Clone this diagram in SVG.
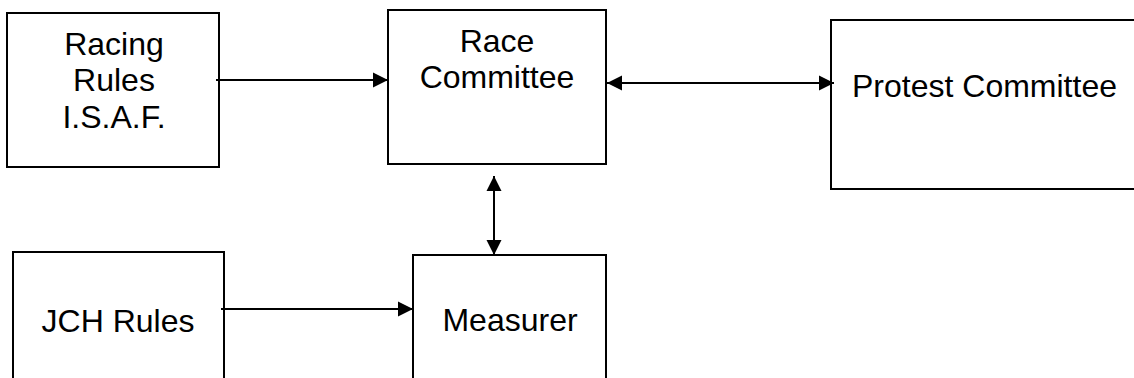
<svg xmlns="http://www.w3.org/2000/svg" width="1134" height="378" viewBox="0 0 1134 378">
<style>
.box{fill:#fff;stroke:#000;stroke-width:2}
.lbl{font-family:"Liberation Sans",Arial,sans-serif;font-size:32px;fill:#000}
.c{text-anchor:middle}
.conn{stroke:#000;stroke-width:2;fill:none}
</style>
<defs>
<marker id="ah" markerUnits="userSpaceOnUse" markerWidth="16" markerHeight="16" viewBox="0 0 16 16" refX="15" refY="8" orient="auto-start-reverse">
<path d="M0,0.5 L15,8 L0,15.5 Z" fill="#000"/>
</marker>
</defs>
<rect width="1134" height="378" fill="#fff"/>
<g id="racing-rules">
<rect class="box" x="7" y="13" width="212" height="154"/>
<text class="lbl c" x="114" y="55">Racing</text>
<text class="lbl c" x="114" y="91">Rules</text>
<text class="lbl c" x="114" y="128">I.S.A.F.</text>
</g>
<g id="race-committee">
<rect class="box" x="388" y="10" width="218" height="154"/>
<text class="lbl c" x="497" y="52">Race</text>
<text class="lbl c" x="497" y="88">Committee</text>
</g>
<g id="protest-committee">
<rect class="box" x="831" y="20" width="320" height="169"/>
<text class="lbl" x="852" y="97">Protest Committee</text>
</g>
<g id="jch-rules">
<rect class="box" x="13" y="252" width="211" height="140"/>
<text class="lbl c" x="118" y="332">JCH Rules</text>
</g>
<g id="measurer">
<rect class="box" x="413" y="255" width="193" height="140"/>
<text class="lbl c" x="510" y="331">Measurer</text>
</g>
<g id="connectors">
<line class="conn" x1="216" y1="80" x2="388" y2="80" marker-end="url(#ah)"/>
<line class="conn" x1="607" y1="83" x2="834" y2="83" marker-start="url(#ah)" marker-end="url(#ah)"/>
<line class="conn" x1="494" y1="176" x2="494" y2="255" marker-start="url(#ah)" marker-end="url(#ah)"/>
<line class="conn" x1="221" y1="309" x2="413" y2="309" marker-end="url(#ah)"/>
</g>
</svg>
